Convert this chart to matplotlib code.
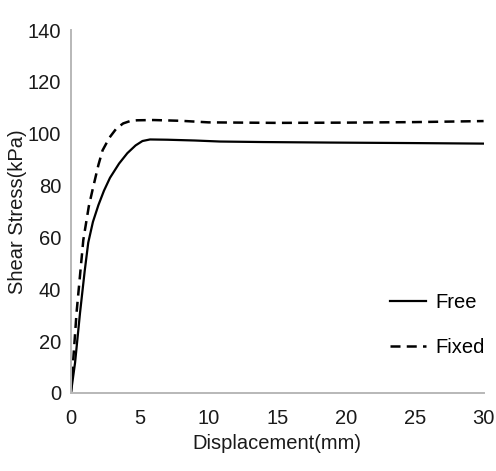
import matplotlib
matplotlib.use("Agg")
import matplotlib.pyplot as plt

plt.rcParams["font.family"] = ["Liberation Sans", "DejaVu Sans"]

# Free condition
free_x = [0, 0.3, 0.66, 1.0, 1.26, 1.6, 2.0, 2.4, 2.84, 3.5, 4.1, 4.7, 5.2, 5.75, 7, 9, 10.85, 14, 18.9, 25, 30]
free_y = [0, 11.6, 30.8, 47, 58, 66, 72.5, 78, 83, 88.5, 92.5, 95.5, 97.2, 97.8, 97.7, 97.4, 97.0, 96.8, 96.6, 96.4, 96.2]

# Fixed condition
fixed_x = [0, 0.41, 0.9, 1.3, 1.6, 2.0, 2.3, 2.8, 3.3, 3.8, 4.3, 4.8, 6, 8, 10, 15, 20, 25, 30]
fixed_y = [0, 31, 59, 72, 79, 88, 93.6, 98.5, 102, 104, 104.9, 105.2, 105.3, 105, 104.4, 104.2, 104.3, 104.5, 104.9]

fig = plt.figure(figsize=(4.96, 4.71), dpi=100)
ax = fig.add_axes([0.143, 0.166, 0.832, 0.770])

ax.plot(free_x, free_y, color="black", lw=1.6, label="Free")
ax.plot(fixed_x, fixed_y, color="black", lw=1.8, dashes=(4, 2.5), label="Fixed")

ax.set_xlim(0, 30)
ax.set_ylim(0, 140)
ax.set_xticks([0, 5, 10, 15, 20, 25, 30])
ax.set_yticks([0, 20, 40, 60, 80, 100, 120, 140])
ax.tick_params(length=0, labelsize=14.5, colors="#1a1a1a")
ax.tick_params(axis="x", pad=12)
ax.tick_params(axis="y", pad=7)

for s in ["top", "right"]:
    ax.spines[s].set_visible(False)
for s in ["left", "bottom"]:
    ax.spines[s].set_color("#b8b8b8")
    ax.spines[s].set_linewidth(1.4)

ax.set_xlabel("Displacement(mm)", fontsize=14.5, color="#1a1a1a", labelpad=4)
ax.set_ylabel("Shear Stress(kPa)", fontsize=14.5, color="#1a1a1a", labelpad=0.5)

ax.legend(loc="lower right", bbox_to_anchor=(1.047, 0.05), frameon=False,
          fontsize=14.5, handlelength=1.8, handletextpad=0.45, labelspacing=1.25)

fig.savefig("out.png", dpi=100)
